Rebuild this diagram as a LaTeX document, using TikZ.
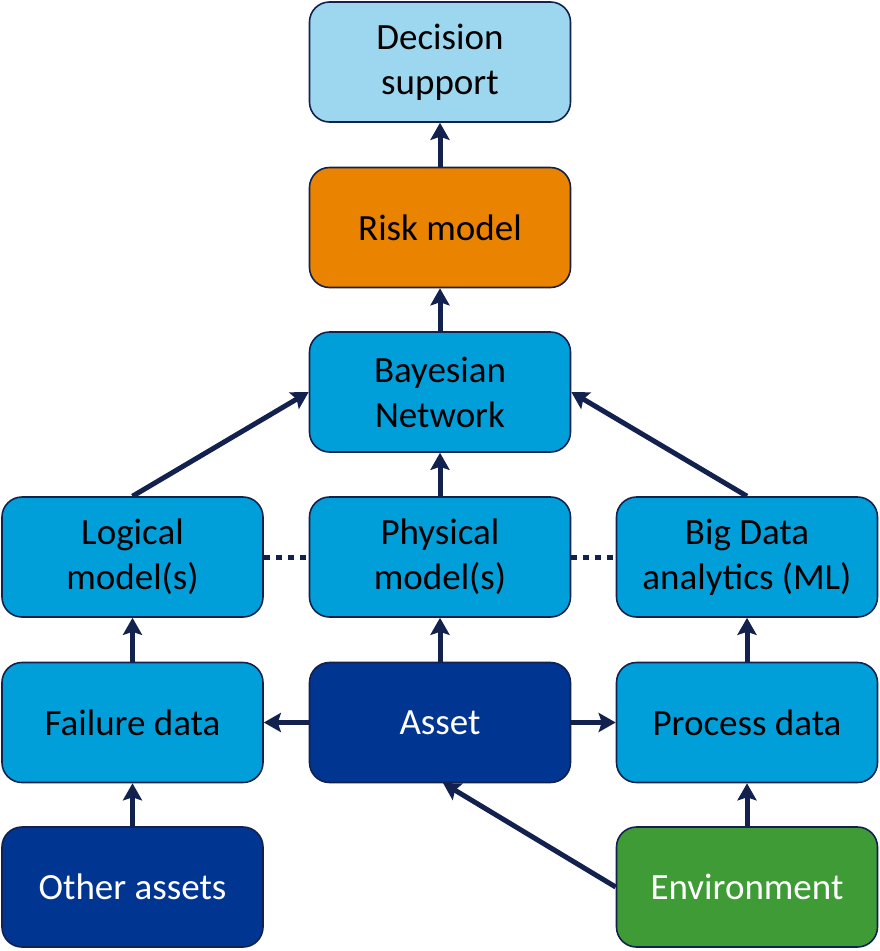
\documentclass[tikz,border=0pt]{standalone}
\usepackage{fontspec}
\setmainfont{Carlito}
\usetikzlibrary{arrows.meta}
\definecolor{lineC}{HTML}{13214F}
\definecolor{lightB}{HTML}{9DD7EF}
\definecolor{midB}{HTML}{009FDA}
\definecolor{darkB}{HTML}{003591}
\definecolor{orangeC}{HTML}{E98300}
\definecolor{greenC}{HTML}{3E9B35}
\tikzset{
  box/.style={draw=lineC, line width=1.6pt, rounded corners=20pt, minimum width=261pt, minimum height=120pt, inner sep=0pt, align=center, font=\fontsize{37}{45}\selectfont, text=black},
  arr/.style={draw=lineC, line width=5pt, -{Stealth[length=17pt,width=19pt,inset=3pt]}},
  dotl/.style={draw=lineC, line width=5pt, dash pattern=on 6pt off 6pt}
}
\begin{document}
\begin{tikzpicture}[x=1pt,y=-1pt]
\useasboundingbox (0,0) rectangle (879,951);
\node[box, fill=lightB] (ds) at (440,62) {Decision\\support};
\node[box, fill=orangeC] (risk) at (440,227.5) {Risk model};
\node[box, fill=midB] (bn) at (440,392) {Bayesian\\Network};
\node[box, fill=midB] (lm) at (132.5,557) {Logical\\model(s)};
\node[box, fill=midB] (pm) at (440,557) {Physical\\model(s)};
\node[box, fill=midB] (bd) at (747,557) {Big Data\\analytics (ML)};
\node[box, fill=midB] (fd) at (132.5,722.5) {Failure data};
\node[box, fill=darkB, text=white] (asset) at (440,722.5) {Asset};
\node[box, fill=midB] (pd) at (747,722.5) {Process data};
\node[box, fill=darkB, text=white] (oa) at (132.5,887) {Other assets};
\node[box, fill=greenC, text=white] (env) at (747,887) {Environment};
\draw[arr] (risk) -- (ds);
\draw[arr] (bn) -- (risk);
\draw[arr] (pm) -- (bn);
\draw[arr] (lm.north) -- (bn.west);
\draw[arr] (bd.north) -- (bn.east);
\draw[arr] (fd) -- (lm);
\draw[arr] (oa) -- (fd);
\draw[arr] (asset) -- (fd);
\draw[arr] (asset) -- (pd);
\draw[arr] (asset) -- (pm);
\draw[arr] (pd) -- (bd);
\draw[arr] (env) -- (pd);
\coordinate (ab) at (443,783);
\draw[arr] (env.west) -- (ab);
\draw[dotl] (lm.east) -- (pm.west);
\draw[dotl] (pm.east) -- (bd.west);
\end{tikzpicture}
\end{document}
